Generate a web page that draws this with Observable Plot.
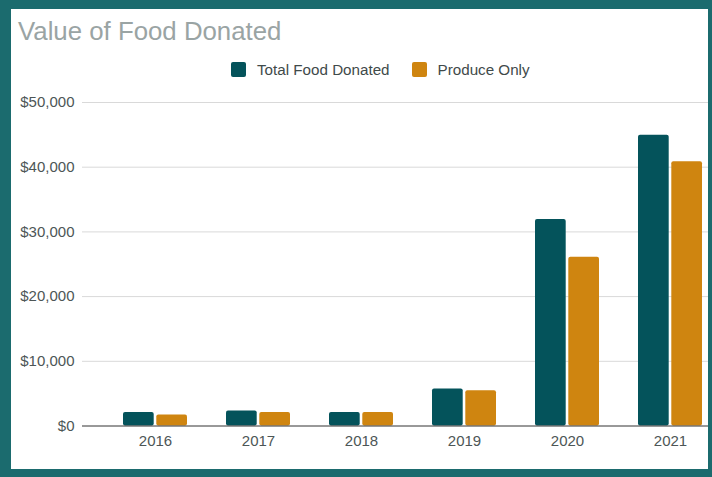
<!DOCTYPE html>
<html>
<head>
<meta charset="utf-8">
<script src="https://cdn.jsdelivr.net/npm/d3@7"></script>
<script src="https://cdn.jsdelivr.net/npm/@observablehq/plot@0.6"></script>
<style>
  html, body { margin: 0; padding: 0; }
  body { width: 712px; height: 477px; background: #1b6b6e; position: relative; overflow: hidden; font-family: "Liberation Sans", Arial, sans-serif; }
  #panel { position: absolute; left: 11px; top: 9px; width: 697px; height: 460px; background: #ffffff; }
  #title { position: absolute; left: 18px; top: 18px; font-size: 25.8px; line-height: 26px; color: #9aa4a4; white-space: nowrap; }
  #legend { position: absolute; left: 231px; top: 62px; display: flex; align-items: center; font-size: 15.2px; line-height: 15px; color: #3f4a4a; white-space: nowrap; }
  #legend .sw { width: 15px; height: 15px; border-radius: 2px; margin-right: 11px; }
  #legend .item { display: flex; align-items: center; margin-right: 22px; }
  #chart { position: absolute; left: 0; top: 80px; }
</style>
</head>
<body>
<div id="panel"></div>
<div id="title">Value of Food Donated</div>
<div id="legend"></div>
<div id="chart"></div>
<script>
const years = ["2016", "2017", "2018", "2019", "2020", "2021"];
const totalFood = [2100, 2300, 2100, 5700, 31900, 44950];
const produceOnly = [1700, 2100, 2100, 5450, 26100, 40850];
const seriesNames = ["Total Food Donated", "Produce Only"];
const seriesColors = ["#04535b", "#cf8510"];
const yTicks = [0, 10000, 20000, 30000, 40000, 50000];

const totalRows = years.map((y, i) => ({year: y, value: totalFood[i], series: seriesNames[0]}));
const produceRows = years.map((y, i) => ({year: y, value: produceOnly[i], series: seriesNames[1]}));

// legend
const legend = document.getElementById("legend");
seriesNames.forEach((name, i) => {
  const item = document.createElement("div");
  item.className = "item";
  const sw = document.createElement("div");
  sw.className = "sw";
  sw.style.background = seriesColors[i];
  const label = document.createElement("span");
  label.textContent = name;
  item.appendChild(sw);
  item.appendChild(label);
  legend.appendChild(item);
});

const plot = Plot.plot({
  width: 712,
  height: 380,
  marginLeft: 82,
  marginRight: 4,
  marginTop: 22,
  marginBottom: 34.5,
  style: {fontFamily: "'Liberation Sans', Arial, sans-serif", fontSize: "15px", color: "#4d5656", background: "transparent"},
  x: {type: "band", domain: years, range: [101.2, 723.4], paddingInner: 0.383, paddingOuter: 0.1915, tickSize: 0, tickPadding: 9.5, label: null},
  y: {domain: [0, 50000], ticks: yTicks, tickSize: 0, tickPadding: 8, tickFormat: d => "$" + d3.format(",")(d), label: null},
  color: {domain: seriesNames, range: seriesColors},
  marks: [
    Plot.ruleY(yTicks.slice(1), {stroke: "#d9d9d9", strokeWidth: 1}),
    Plot.barY(totalRows, {x: "year", y: "value", fill: "series", insetRight: 33.3, rx: 2}),
    Plot.barY(produceRows, {x: "year", y: "value", fill: "series", insetLeft: 33.3, rx: 2}),
    Plot.ruleY([0], {stroke: "#333333", strokeWidth: 1})
  ]
});
document.getElementById("chart").appendChild(plot);
</script>
</body>
</html>
